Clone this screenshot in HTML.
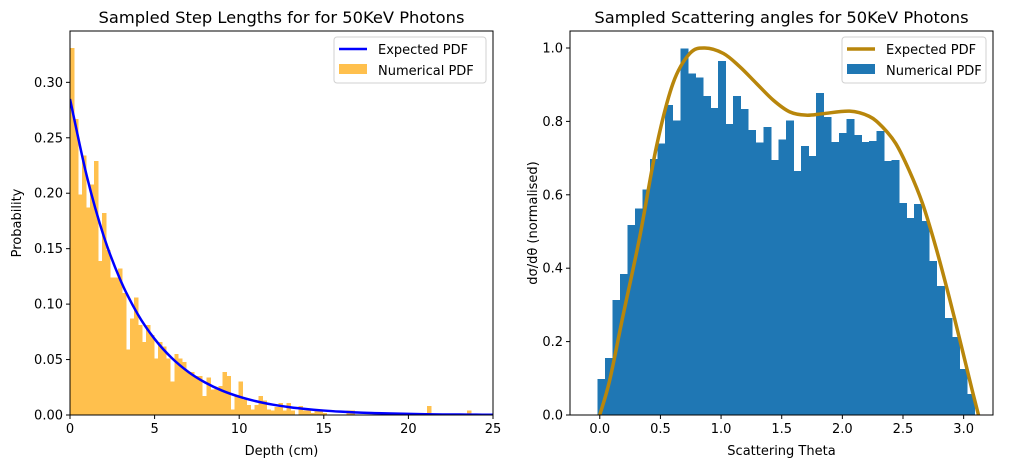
<!DOCTYPE html>
<html><head><meta charset="utf-8"><style>
body{margin:0;background:#fff;}
svg{display:block;font-family:"DejaVu Sans","Liberation Sans",sans-serif;}
</style></head><body>
<svg id="chart" width="1010" height="468" viewBox="0 0 1010 468" xmlns="http://www.w3.org/2000/svg"></svg>
<script>
// ---- Left chart data ----
const stepBinWidth = 0.237;
const stepHist = [0.331,0.267,0.199,0.234,0.187,0.208,0.229,0.139,0.182,0.149,0.124,0.124,0.132,0.110,0.059,0.087,0.106,0.081,0.066,0.081,0.072,0.051,0.066,0.062,0.051,0.030,0.055,0.051,0.048,0.039,0.039,0.035,0.035,0.017,0.034,0.023,0.024,0.026,0.039,0.035,0.005,0.017,0.030,0.014,0.009,0.005,0.009,0.017,0.013,0.005,0.004,0.007,0.011,0.004,0.011,0.004,0,0.008,0.004,0.004,0.002,0.004,0.004,0.002,0,0,0,0,0,0.004,0.004,0,0,0,0,0,0,0,0,0,0,0,0,0,0,0,0,0,0,0.008,0,0,0,0,0,0,0,0,0,0.004];
const stepCurveX = [0,1,2,3,4,5,6,7,8,9,10,11,12,13,14,15,16,17,18,19,20,21,22,23,24,25];
const stepCurveY = [0.285,0.215,0.161,0.121,0.091,0.0686,0.0516,0.0388,0.0292,0.0219,0.0165,0.0124,0.0093,0.0070,0.0053,0.0040,0.0030,0.0022,0.0017,0.0013,0.0010,0.0007,0.0005,0.0004,0.0003,0.0002];
const leftXTicks = [0,5,10,15,20,25];
const leftYTicks = [0.00,0.05,0.10,0.15,0.20,0.25,0.30];
// ---- Right chart data ----
const angleStart = -0.02;
const angleBinWidth = 0.0622;
const angleHist = [0.098,0.155,0.313,0.384,0.518,0.563,0.615,0.697,0.74,0.845,0.802,0.999,0.931,0.92,0.869,0.837,0.965,0.793,0.869,0.834,0.777,0.743,0.785,0.695,0.75,0.802,0.665,0.733,0.706,0.877,0.812,0.744,0.768,0.806,0.763,0.744,0.747,0.774,0.692,0.695,0.578,0.537,0.575,0.529,0.42,0.351,0.264,0.213,0.125,0.057];
const angleCurveX = [0,0.082,0.19,0.33,0.467,0.604,0.742,0.866,1.02,1.154,1.29,1.43,1.566,1.7,1.84,2.06,2.22,2.33,2.44,2.55,2.66,2.77,2.88,2.99,3.07,3.13];
const angleCurveY = [0,0.095,0.268,0.486,0.731,0.904,0.985,1.0,0.985,0.949,0.904,0.858,0.826,0.817,0.821,0.828,0.814,0.785,0.74,0.667,0.577,0.458,0.322,0.176,0.068,-0.01];
const rightXTicks = [0.0,0.5,1.0,1.5,2.0,2.5,3.0];
const rightYTicks = [0.0,0.2,0.4,0.6,0.8,1.0];

const NS="http://www.w3.org/2000/svg";
const svg=document.getElementById('chart');
function mk(tag,attrs,parent){const e=document.createElementNS(NS,tag);for(const k in attrs)e.setAttribute(k,attrs[k]);(parent||svg).appendChild(e);return e;}
function smooth(pts){let d='M'+pts[0][0]+','+pts[0][1];for(let i=0;i<pts.length-1;i++){const p0=pts[Math.max(0,i-1)],p1=pts[i],p2=pts[i+1],p3=pts[Math.min(pts.length-1,i+2)];const c1=[p1[0]+(p2[0]-p0[0])/6,p1[1]+(p2[1]-p0[1])/6],c2=[p2[0]-(p3[0]-p1[0])/6,p2[1]-(p3[1]-p1[1])/6];d+=' C'+c1[0]+','+c1[1]+' '+c2[0]+','+c2[1]+' '+p2[0]+','+p2[1];}return d;}

function panel(cfg){
  const g=mk('g',{});
  
  
  const {L,R,T,B}=cfg;
  const sx=v=>L+(v-cfg.xmin)/(cfg.xmax-cfg.xmin)*(R-L);
  const sy=v=>B-(v-cfg.ymin)/(cfg.ymax-cfg.ymin)*(B-T);
  const clipId=cfg.name+'-clip';
  const cp=mk('clipPath',{id:clipId},g);mk('rect',{x:L,y:T,width:R-L,height:B-T},cp);
  const plot=mk('g',{'clip-path':'url(#'+clipId+')'},g);
  cfg.hist.forEach((v,i)=>{
    if(v<=0)return;
    const x0=sx(cfg.hstart+i*cfg.bw),x1=sx(cfg.hstart+(i+1)*cfg.bw);
    const r=mk('rect',{x:x0,y:sy(v),width:x1-x0+0.4,height:sy(0)-sy(v),fill:cfg.barColor,'shape-rendering':'crispEdges'},plot);
    
    
  });
  const pts=cfg.cx.map((x,i)=>[sx(x),sy(cfg.cy[i])]);
  const ln=mk('path',{d:smooth(pts),fill:'none',stroke:cfg.lineColor,'stroke-width':cfg.lw},plot);
  
  
  const fr=mk('rect',{x:L,y:T,width:R-L,height:B-T,fill:'none',stroke:'#000','stroke-width':1},g);
  
  
  cfg.xt.forEach(t=>{const x=sx(t);mk('line',{x1:x,x2:x,y1:B,y2:B+4,stroke:'#000'},g);
    const tx=mk('text',{x:x,y:B+18,'font-size':13,'text-anchor':'middle',fill:'#000'},g);tx.textContent=cfg.xf(t);
    
    });
  cfg.yt.forEach(t=>{const y=sy(t);mk('line',{x1:L-4,x2:L,y1:y,y2:y,stroke:'#000'},g);
    const tx=mk('text',{x:L-7,y:y+4.5,'font-size':13,'text-anchor':'end',fill:'#000'},g);tx.textContent=cfg.yf(t);
    
    });
  const ti=mk('text',{x:(L+R)/2,y:23,'font-size':16.3,'text-anchor':'middle',fill:'#000'},g);ti.textContent=cfg.title;
  
  
  const xl=mk('text',{x:(L+R)/2,y:455,'font-size':13,'text-anchor':'middle',fill:'#000'},g);xl.textContent=cfg.xlabel;
  
  
  const yl=mk('text',{x:cfg.ylx,y:(T+B)/2,'font-size':13,'text-anchor':'middle',fill:'#000',transform:'rotate(-90 '+cfg.ylx+' '+(T+B)/2+')'},g);yl.textContent=cfg.ylabel;
  
  
  // legend
  const lg=mk('g',{},g);
  
  
  mk('rect',{x:cfg.legX,y:37,width:R-7-cfg.legX,height:46,rx:3,fill:'#fff',stroke:'#ccc','stroke-opacity':0.9},lg);
  mk('line',{x1:cfg.legX+5,x2:cfg.legX+33,y1:49,y2:49,stroke:cfg.lineColor,'stroke-width':cfg.lw},lg);
  mk('rect',{x:cfg.legX+5,y:64,width:28,height:10,fill:cfg.barColor},lg);
  const t1=mk('text',{x:cfg.legX+44,y:54,'font-size':13,fill:'#000'},lg);t1.textContent='Expected PDF';
  
  
  const t2=mk('text',{x:cfg.legX+44,y:75,'font-size':13,fill:'#000'},lg);t2.textContent='Numerical PDF';
  
  
}
panel({name:'step-length-chart',L:70,R:493,T:31,B:415,xmin:0,xmax:25,ymin:0,ymax:0.3463,
  hist:stepHist,hstart:0,bw:stepBinWidth,barColor:'#ffc04d',cx:stepCurveX,cy:stepCurveY,lineColor:'#0000ff',lw:2.5,
  xt:leftXTicks,yt:leftYTicks,xf:t=>String(t),yf:t=>t.toFixed(2),title:'Sampled Step Lengths for for 50KeV Photons',
  xlabel:'Depth (cm)',ylabel:'Probability',ylx:21,legX:334});
panel({name:'scattering-angle-chart',L:570,R:993,T:31,B:415,xmin:-0.2455,xmax:3.242,ymin:0,ymax:1.0463,
  hist:angleHist,hstart:angleStart,bw:angleBinWidth,barColor:'#1f77b4',cx:angleCurveX,cy:angleCurveY,lineColor:'#b8860b',lw:3.5,
  xt:rightXTicks,yt:rightYTicks,xf:t=>t.toFixed(1),yf:t=>t.toFixed(1),title:'Sampled Scattering angles for 50KeV Photons',
  xlabel:'Scattering Theta',ylabel:'dσ/dθ (normalised)',ylx:537,legX:842});
</script>
</body></html>
